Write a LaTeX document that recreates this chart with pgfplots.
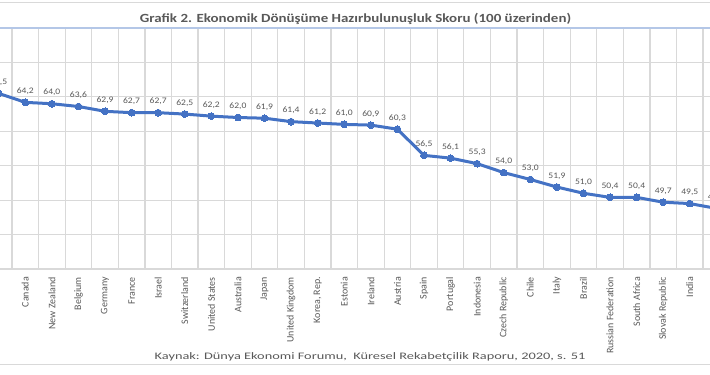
\documentclass[border=0pt]{standalone}
\usepackage{pgfplots}
\pgfplotsset{compat=1.18}
\usepackage{fontspec}
\setmainfont{Carlito}
\newfontfamily\srcfont[FakeStretch=1.44]{Carlito}
\newfontfamily\lblfont[FakeStretch=1.13]{Carlito}
\definecolor{lineblue}{HTML}{4472C4}
\definecolor{txtgray}{HTML}{595959}
\definecolor{gridgray}{HTML}{D9D9D9}
\definecolor{topblue}{HTML}{B4C7E7}
\begin{document}
\begin{tikzpicture}
\useasboundingbox (0bp,0bp) rectangle (710bp,375bp);
\clip (0bp,0bp) rectangle (710bp,375bp);
\fill[white] (0bp,0bp) rectangle (710bp,375bp);
\draw[gridgray, line width=1bp] (0bp,372bp) -- (710bp,372bp);
\draw[gridgray, line width=1bp] (0bp,10bp) -- (710bp,10bp);
\node[font=\bfseries\fontsize{12.5}{14}\selectfont, text=txtgray] at (355.5bp,356bp) {\scalebox{1.2}[1]{Grafik 2. Ekonomik Dönüşüme Hazırbulunuşluk Skoru (100 üzerinden)}};
\node[font=\srcfont\fontsize{10}{12}\selectfont, text=txtgray] at (370bp,18bp) {Kaynak: Dünya Ekonomi Forumu,\ \ Küresel Rekabetçilik Raporu, 2020, s. 51};
\begin{axis}[
  at={(0bp,106bp)}, anchor=south west, scale only axis,
  width=710bp, height=241bp,
  xmin=0.0485, xmax=26.76, ymin=40, ymax=75,
  enlargelimits=false,
  clip=false,
  axis line style={draw=none},
  ytick={40,45,...,75}, yticklabels={},
  ymajorgrids, xminorgrids,
  major grid style={gridgray, line width=1.2bp},
  minor grid style={gridgray, line width=1.2bp},
  xtick={0,...,27},
  xticklabels={China,Canada,New Zealand,Belgium,Germany,France,Israel,Switzerland,United States,Australia,Japan,United Kingdom,{Korea, Rep.},Estonia,Ireland,Austria,Spain,Portugal,Indonesia,Czech Republic,Chile,Italy,Brazil,Russian Federation,South Africa,Slovak Republic,India,{}},
  minor xtick={0.5,1.5,...,26.5},
  major tick length=0, minor tick length=0,
  xticklabel style={rotate=90, anchor=east, font=\fontsize{10}{11}\selectfont, text=txtgray, inner sep=0pt, xshift=-8bp},
  nodes near coords,
  every node near coord/.append style={font=\lblfont\fontsize{8.5}{9}\selectfont, text=txtgray, anchor=base, inner sep=0pt, yshift=9bp},
  /pgf/number format/fixed,
  /pgf/number format/fixed zerofill,
  /pgf/number format/precision=1,
  /pgf/number format/use comma,
  /pgf/number format/assume math mode=true,
]
\draw[topblue, line width=1.2bp] (rel axis cs:0,1) -- (rel axis cs:1,1);
\draw[gridgray, line width=1.5bp] (rel axis cs:0,0) -- (rel axis cs:1,0);
\addplot[lineblue, line width=3bp, mark=*, mark size=3.4bp, mark options={fill=lineblue, draw=lineblue, line width=0pt}]
coordinates {
(0,65.5) (1,64.2) (2,64.0) (3,63.6) (4,62.9) (5,62.7) (6,62.7) (7,62.5)
(8,62.2) (9,62.0) (10,61.9) (11,61.4) (12,61.2) (13,61.0) (14,60.9) (15,60.3)
(16,56.5) (17,56.1) (18,55.3) (19,54.0) (20,53.0) (21,51.9) (22,51.0) (23,50.4)
(24,50.4) (25,49.7) (26,49.5) (27,48.8)
};
\end{axis}
\end{tikzpicture}
\end{document}
